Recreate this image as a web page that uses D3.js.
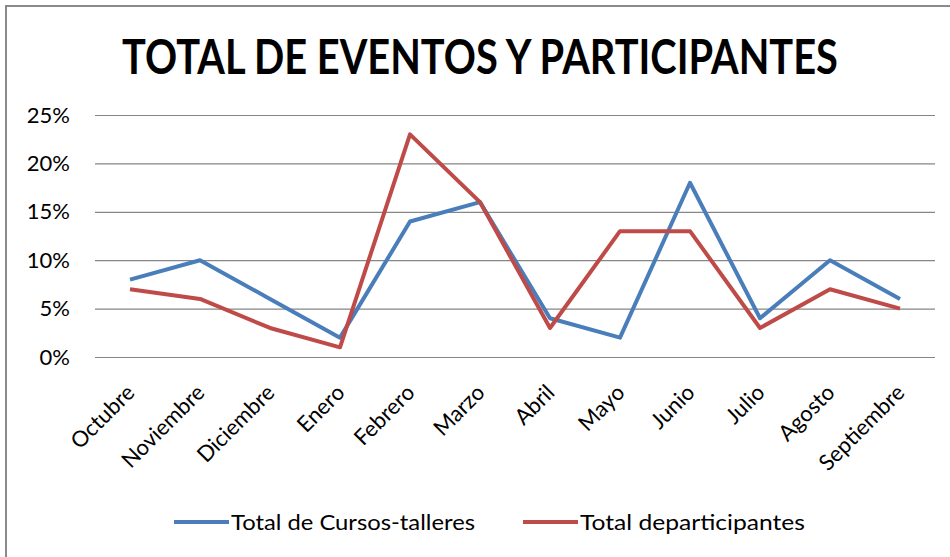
<!DOCTYPE html>
<html>
<head>
<meta charset="utf-8">
<script src="https://cdn.jsdelivr.net/npm/d3@7"></script>
<style>
  html, body { margin: 0; padding: 0; background: #fff; }
  svg { display: block; }
</style>
</head>
<body>
<svg id="chart" width="950" height="557"></svg>
<script>
// Months of the reporting year
const months = ["Octubre", "Noviembre", "Diciembre", "Enero", "Febrero", "Marzo",
                "Abril", "Mayo", "Junio", "Julio", "Agosto", "Septiembre"];
// Share of courses/workshops per month (%)
const cursosTalleres = [8, 10, 6, 2, 14, 16, 4, 2, 18, 4, 10, 6];
// Share of participants per month (%)
const participantes = [7, 6, 3, 1, 23, 16, 3, 13, 13, 3, 7, 5];
// Y axis ticks (%)
const yTicks = [0, 5, 10, 15, 20, 25];
const seriesNames = ["Total de Cursos-talleres", "Total departicipantes"];
const seriesColors = ["#4a7ebb", "#be4b48"];

const svg = d3.select("#chart");
const W = 950, H = 557;
const plot = { left: 95, right: 935, top: 115, bottom: 357 };
const font = "Lato, 'Open Sans', sans-serif";

// frame (top and left edges)
svg.append("path")
  .attr("d", `M6,${H} L6,6 L${W},6`)
  .attr("fill", "none").attr("stroke", "#8a8a8a").attr("stroke-width", 2);

const x = d3.scaleBand().domain(months).range([plot.left, plot.right]);
const y = d3.scaleLinear().domain([0, 25]).range([plot.bottom, plot.top]);

// title, condensed horizontally to a fixed width
const titleG = svg.append("g");
const title = titleG.append("text")
  .attr("x", 0).attr("y", 0)
  .attr("text-anchor", "middle")
  .attr("font-family", font).attr("font-weight", "bold")
  .attr("font-size", 47)
  .attr("fill", "#000")
  .text("TOTAL DE EVENTOS Y PARTICIPANTES");
const titleW = title.node().getComputedTextLength() || 716;
titleG.attr("transform", `translate(480,74) scale(${Math.min(1, 716 / titleW)},1)`);

// horizontal grid
const yAxis = d3.axisLeft(y).tickValues(yTicks)
  .tickSize(-(plot.right - plot.left)).tickPadding(25)
  .tickFormat(d => d + "%");
const gy = svg.append("g").attr("transform", `translate(${plot.left},0)`).call(yAxis);
gy.select(".domain").remove();
gy.selectAll(".tick line").attr("stroke", "#868686").attr("stroke-width", 1.2);
gy.selectAll(".tick text")
  .attr("font-family", font).attr("font-size", 22).attr("fill", "#000");

// category labels
const xAxis = d3.axisBottom(x).tickSize(0).tickPadding(0);
const gx = svg.append("g").attr("transform", `translate(0,${plot.bottom})`).call(xAxis);
gx.select(".domain").remove();
gx.selectAll(".tick text")
  .attr("font-family", font).attr("font-size", 22).attr("fill", "#000")
  .attr("text-anchor", "end")
  .attr("dy", 0).attr("y", 0)
  .attr("transform", "translate(6,37) rotate(-45)");

// series lines
const line = d3.line()
  .x((d, i) => x(months[i]) + x.bandwidth() / 2)
  .y(d => y(d));
[cursosTalleres, participantes].forEach((vals, k) => {
  svg.append("path")
    .datum(vals)
    .attr("d", line)
    .attr("fill", "none")
    .attr("stroke", seriesColors[k])
    .attr("stroke-width", 4)
    .attr("stroke-linejoin", "round");
});

// legend
const legendY = 522;
const legendItems = [
  { x: 174, textLen: 244 },
  { x: 523, textLen: 225 }
];
legendItems.forEach((it, k) => {
  svg.append("line")
    .attr("x1", it.x).attr("x2", it.x + 55)
    .attr("y1", legendY).attr("y2", legendY)
    .attr("stroke", seriesColors[k]).attr("stroke-width", 4);
  svg.append("text")
    .attr("x", it.x + 57).attr("y", legendY + 8)
    .attr("font-family", font).attr("font-size", 22).attr("fill", "#000")
    .attr("textLength", it.textLen).attr("lengthAdjust", "spacingAndGlyphs")
    .text(seriesNames[k]);
});
</script>
</body>
</html>
